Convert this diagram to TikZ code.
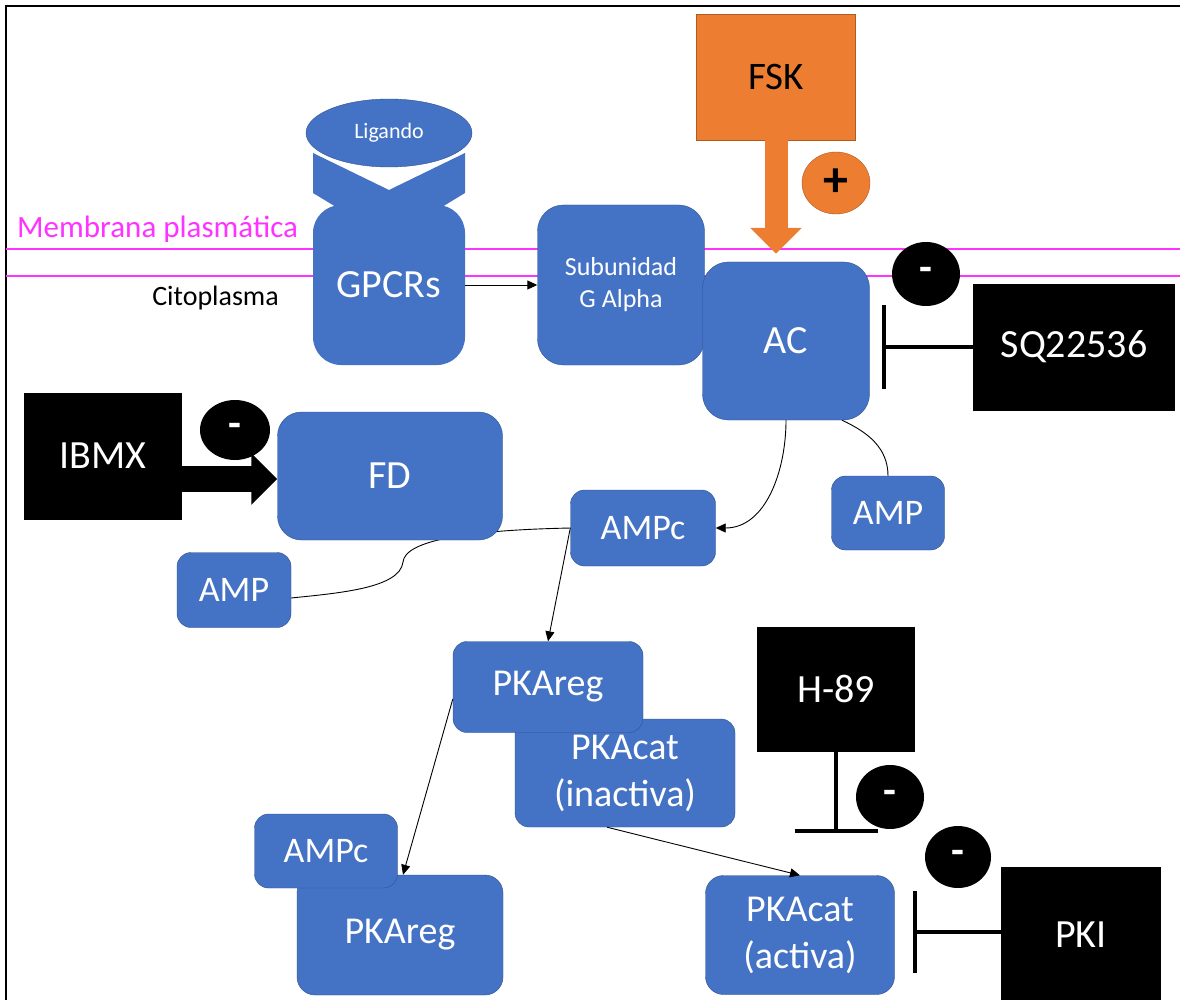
\documentclass[tikz,border=0pt]{standalone}
\usepackage{fontspec}
\setmainfont{Carlito}
\usepackage{tikz}
\usetikzlibrary{shapes.geometric,arrows.meta}
\definecolor{figblue}{HTML}{4472C4}
\definecolor{figblueline}{HTML}{2F528F}
\definecolor{figorange}{HTML}{ED7D31}
\definecolor{figorangeline}{HTML}{AE5A21}
\definecolor{figmagenta}{HTML}{FF33FF}
\tikzset{
  prot/.style={draw=figblueline,fill=figblue,text=white,align=center,inner sep=0pt,rounded corners=14pt,font=\fontsize{38}{47}\selectfont},
  droga/.style={fill=black,text=white,inner sep=0pt,font=\fontsize{40}{46}\selectfont},
  signo/.style={ellipse,fill=black,text=white,inner sep=0pt,font=\fontsize{42}{42}\selectfont\bfseries},
  flecha/.style={line width=0.9pt,-{Triangle[length=10pt,width=9pt]}},
  enlace/.style={line width=0.9pt},
  inhib/.style={line width=4pt,-{Bar[width=84pt]}},
  bloque/.style={line width=26pt,-{Triangle[length=26pt,width=50pt]}}
}

\begin{document}
\begin{tikzpicture}[x=1pt,y=-1pt]
    \useasboundingbox (0,0) rectangle (1180,1000);
    \clip (0,0) rectangle (1180,1000);
    \fill[white] (0,0) rectangle (1180,1000);
    \draw[line width=2pt] (6,1002) -- (6,6) -- (1182,6);
    \draw[figmagenta,line width=1.3pt] (6,249) -- (1180,249) (6,276) -- (1180,276);
    \node[anchor=west,text=figmagenta,inner sep=0pt,font=\fontsize{31}{34}\selectfont] (membrana) at (17,229) {Membrana plasmática};
    \node[anchor=east,inner sep=0pt,font=\fontsize{28}{30}\selectfont] (cito) at (279,298) {Citoplasma};

    \fill[figblue] (313,153) -- (389,190) -- (465,153) -- (465,193) -- (437,210) -- (341,210) -- (313,193) -- cycle;
    \node[prot,draw=none,rounded corners=28pt,minimum width=152pt,minimum height=160pt,font=\fontsize{40}{44}\selectfont] (gpcr) at (389,285) {GPCRs};
    \node[ellipse,draw=figblueline,fill=figblue,text=white,inner sep=0pt,minimum width=166pt,minimum height=68pt,font=\fontsize{22}{24}\selectfont] (ligando) at (389,133) {Ligando};
    \node[prot,rounded corners=26pt,minimum width=167pt,minimum height=160pt,font=\fontsize{26}{32}\selectfont] (galfa) at (621,285) {Subunidad\\G Alpha};
    \node[prot,rounded corners=26pt,minimum width=167pt,minimum height=158pt,font=\fontsize{40}{44}\selectfont] (ac) at (786,341) {AC};
    \node[draw=figorangeline,fill=figorange,inner sep=0pt,minimum width=159pt,minimum height=126pt,font=\fontsize{39}{44}\selectfont] (fsk) at (776,77) {FSK};
    \draw[bloque,figorange,line width=23pt,shorten >=8pt] (fsk.south) -- (fsk.south |- ac.north);
    \node[ellipse,draw=figorangeline,fill=figorange,inner sep=0pt,minimum width=68pt,minimum height=62pt,font=\fontsize{50}{50}\selectfont\bfseries] (mas) at (836,183) {+};
    \node[signo,minimum width=68pt,minimum height=64pt] (menos1) at (926,274) {-};
    \node[droga,minimum width=202pt,minimum height=127pt] (sq) at (1074,347) {SQ22536};
    \coordinate (sqbarra) at (882,347);
    \draw[inhib] (sq.west) -- (sqbarra);
    \draw[flecha] (gpcr.east) -- (galfa.west);

    \node[droga,minimum width=158pt,minimum height=127pt] (ibmx) at (103,456) {IBMX};
    \draw[enlace] (643,528) ++(-72,0) .. controls (470,530) and (405,540) .. (403,562) .. controls (400,588) and (340,593) .. (291,598);
    \node[prot,rounded corners=24pt,minimum width=225pt,minimum height=128pt,font=\fontsize{40}{44}\selectfont] (fd) at (390,476) {FD};
    \node[signo,minimum width=70pt,minimum height=60pt] (menos2) at (235,430) {-};
    \draw[bloque] ([yshift=-23pt]ibmx.east) -- ([yshift=-23pt]ibmx.east -| fd.west);
    \node[prot,minimum width=114pt,minimum height=75pt,font=\fontsize{36}{40}\selectfont] (ampi) at (234,590) {AMP};
    \node[prot,minimum width=145pt,minimum height=76pt,font=\fontsize{36}{40}\selectfont] (ampc) at (643,528) {AMPc};
    \node[prot,minimum width=113pt,minimum height=74pt,font=\fontsize{36}{40}\selectfont] (ampd) at (888,513) {AMP};
    \draw[flecha] (ac.south) to[out=-90,in=0] (ampc.east);
    \draw[enlace] ([xshift=56pt]ac.south) to[out=-25,in=90] (ampd.north);

    \node[prot,minimum width=220pt,minimum height=108pt] (pkacat) at (625,773) {PKAcat\\(inactiva)};
    \node[prot,minimum width=190pt,minimum height=91pt] (pkareg) at (548,687) {PKAreg};
    \draw[flecha] (ampc.west) -- (pkareg.north);
    \node[prot,rounded corners=18pt,minimum width=206pt,minimum height=120pt] (pkareg2) at (400,935) {PKAreg};
    \node[prot,minimum width=143pt,minimum height=74pt,font=\fontsize{36}{40}\selectfont] (ampc2) at (326,851) {AMPc};
    \draw[flecha] ([yshift=-12pt]pkareg.west) -- ([xshift=3pt]pkareg2.north);
    \node[prot,rounded corners=18pt,minimum width=189pt,minimum height=119pt] (pkaact) at (800,935) {PKAcat\\(activa)};
    \draw[flecha] ([xshift=-18pt]pkacat.south) -- (pkaact.north);

    \node[droga,minimum width=158pt,minimum height=125pt] (h89) at (836,689) {H-89};
    \coordinate (h89barra) at (836,833);
    \draw[inhib,-{Bar[width=83pt]}] (h89.south) -- (h89barra);
    \node[signo,minimum width=68pt,minimum height=64pt] (menos3) at (890,797) {-};
    \node[signo,minimum width=66pt,minimum height=62pt] (menos4) at (958,857) {-};
    \node[droga,minimum width=160pt,minimum height=136pt] (pki) at (1081,935) {PKI};
    \coordinate (pkibarra) at (913,932);
    \draw[inhib,-{Bar[width=82pt]}] (pki.west |- pkibarra) -- (pkibarra);
  \end{tikzpicture}
\end{document}
